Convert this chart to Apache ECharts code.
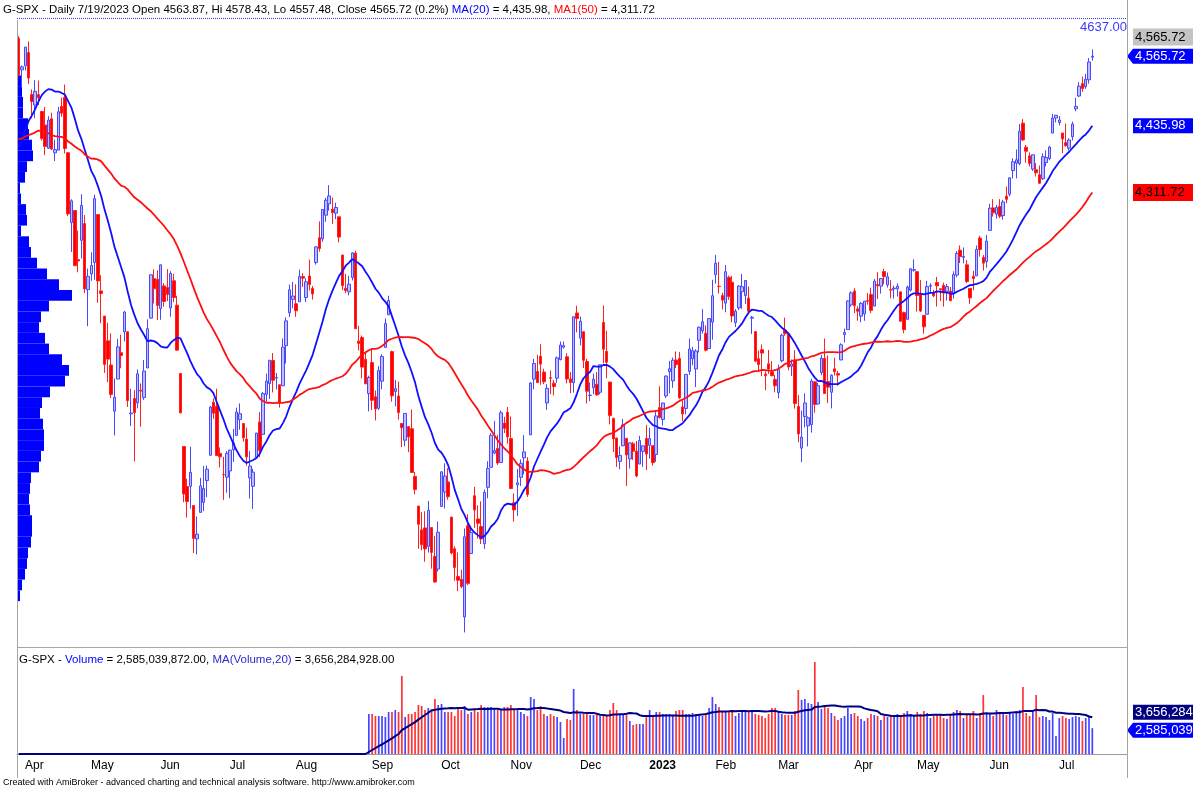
<!DOCTYPE html>
<html>
<head>
<meta charset="utf-8">
<script src="https://cdn.jsdelivr.net/npm/echarts@6/dist/echarts.min.js"></script>
<style>
html, body { margin: 0; padding: 0; background: #fff; }
#main { width: 1193px; height: 789px; }
</style>
</head>
<body>
<div id="main"></div>
<script>
// 交易日: 2022-03-31 .. 2023-07-19 (周末和假日除外)
var holidays = ['2022-04-15', '2022-05-30', '2022-06-20', '2022-07-04', '2022-09-05', '2022-11-24',
    '2022-12-26', '2023-01-02', '2023-01-16', '2023-02-20', '2023-04-07', '2023-05-29', '2023-06-19', '2023-07-04'];
var months = ['Jan', 'Feb', 'Mar', 'Apr', 'May', 'Jun', 'Jul', 'Aug', 'Sep', 'Oct', 'Nov', 'Dec'];

// 用于计算均线的前期收盘价 (2022-01-18 .. 2022-03-30)
var priorClose = [4577.11, 4532.76, 4482.73, 4397.94, 4410.13, 4356.45, 4349.93, 4326.51, 4431.85, 4515.55,
    4546.54, 4589.38, 4477.44, 4500.53, 4483.87, 4521.54, 4587.18, 4504.08, 4418.64, 4401.67, 4471.07, 4475.01,
    4380.26, 4348.87, 4304.76, 4225.50, 4288.70, 4384.65, 4373.94, 4306.26, 4386.54, 4363.49, 4328.87, 4201.09,
    4170.70, 4277.88, 4259.52, 4204.31, 4173.11, 4262.45, 4357.86, 4411.67, 4463.12, 4461.18, 4511.61, 4456.24,
    4520.16, 4543.06, 4575.52, 4631.60, 4602.45];

// 日线 [open, high, low, close]
var ohlc = [
    [4599.02, 4603.07, 4530.41, 4530.41],
    // 2022-04
    [4540.32, 4548.70, 4507.57, 4545.86], [4547.97, 4583.50, 4539.21, 4582.64], [4572.45, 4593.45, 4514.17, 4525.12],
    [4494.17, 4503.94, 4450.04, 4481.15], [4474.65, 4521.16, 4450.30, 4500.21], [4494.15, 4520.41, 4474.60, 4488.28],
    [4462.64, 4464.35, 4408.38, 4412.53], [4437.59, 4471.00, 4381.34, 4397.45], [4394.30, 4453.92, 4392.70, 4446.59],
    [4449.12, 4460.46, 4390.77, 4392.59], [4385.63, 4410.31, 4370.30, 4391.69], [4390.63, 4471.03, 4390.63, 4462.21],
    [4472.26, 4488.29, 4452.86, 4459.45], [4489.17, 4512.94, 4384.47, 4393.66], [4385.83, 4385.83, 4267.62, 4271.78],
    [4255.34, 4299.02, 4200.82, 4296.12], [4278.14, 4278.14, 4175.04, 4175.20], [4186.52, 4240.71, 4162.90, 4183.96],
    [4222.58, 4308.45, 4188.63, 4287.50], [4253.75, 4269.68, 4124.28, 4131.93],
    // 2022-05
    [4130.61, 4169.81, 4062.51, 4155.38], [4159.78, 4200.10, 4147.08, 4175.48], [4181.18, 4307.66, 4148.91, 4300.17],
    [4270.43, 4270.43, 4106.01, 4146.87], [4128.17, 4157.69, 4067.91, 4123.34], [4081.27, 4081.27, 3975.48, 3991.24],
    [4035.18, 4068.82, 3958.17, 4001.05], [3990.08, 4049.09, 3928.82, 3935.18], [3903.95, 3964.80, 3858.87, 3930.08],
    [3963.90, 4038.88, 3963.90, 4023.89], [4013.02, 4046.46, 3983.99, 4008.01], [4052.00, 4090.72, 4033.93, 4088.85],
    [4051.98, 4051.98, 3911.91, 3923.68], [3899.00, 3945.96, 3876.58, 3900.79], [3927.76, 3943.42, 3810.32, 3901.36],
    [3919.42, 3981.88, 3909.04, 3973.75], [3942.94, 3955.68, 3875.13, 3941.48], [3929.59, 3999.33, 3925.03, 3978.73],
    [3984.60, 4075.14, 3984.60, 4057.84], [4077.43, 4158.49, 4077.43, 4158.24], [4151.09, 4168.34, 4104.88, 4132.15],
    // 2022-06
    [4149.78, 4166.54, 4073.85, 4101.23], [4095.41, 4177.51, 4074.37, 4176.82], [4137.57, 4142.67, 4098.67, 4108.54],
    [4134.72, 4168.78, 4109.18, 4121.43], [4096.47, 4164.86, 4080.19, 4160.68], [4147.12, 4160.14, 4107.20, 4115.77],
    [4101.65, 4119.10, 4017.17, 4017.82], [3974.39, 3974.39, 3900.16, 3900.86], [3838.15, 3838.15, 3734.30, 3749.63],
    [3763.52, 3778.18, 3705.68, 3735.48], [3764.05, 3837.56, 3722.30, 3789.99], [3728.18, 3728.18, 3639.77, 3666.77],
    [3665.90, 3707.71, 3636.87, 3674.84], [3715.31, 3779.65, 3715.31, 3764.79], [3733.89, 3801.79, 3717.69, 3759.89],
    [3774.71, 3802.58, 3743.52, 3795.73], [3821.75, 3913.65, 3821.75, 3911.74], [3920.76, 3927.72, 3889.66, 3900.11],
    [3913.00, 3945.86, 3820.14, 3821.55], [3825.09, 3836.50, 3799.02, 3818.83], [3785.99, 3818.99, 3738.67, 3785.38],
    // 2022-07
    [3781.00, 3829.82, 3752.10, 3825.33], [3792.61, 3832.19, 3742.06, 3831.39], [3831.98, 3870.91, 3809.37, 3845.08],
    [3858.85, 3910.63, 3858.85, 3902.62], [3888.26, 3918.50, 3869.34, 3899.38], [3880.94, 3880.94, 3847.22, 3854.43],
    [3851.95, 3873.41, 3802.36, 3818.80], [3779.67, 3829.44, 3741.25, 3801.78], [3763.99, 3796.41, 3721.56, 3790.38],
    [3818.00, 3863.62, 3817.18, 3863.16], [3883.79, 3902.44, 3818.63, 3830.85], [3860.73, 3939.81, 3860.73, 3936.69],
    [3935.32, 3974.13, 3922.03, 3959.90], [3955.47, 3999.29, 3926.74, 3998.95], [3998.43, 4012.44, 3938.85, 3961.63],
    [3965.72, 3975.30, 3944.46, 3966.84], [3953.22, 3953.22, 3910.74, 3921.05], [3951.43, 4039.56, 3951.43, 4023.61],
    [4026.13, 4078.95, 3992.97, 4072.43], [4087.33, 4140.15, 4079.22, 4130.29],
    // 2022-08
    [4112.38, 4144.95, 4096.02, 4118.63], [4104.21, 4140.47, 4079.81, 4091.19], [4107.96, 4167.66, 4107.96, 4155.17],
    [4154.85, 4161.29, 4135.42, 4151.94], [4115.87, 4151.58, 4107.31, 4145.19], [4155.93, 4186.62, 4128.97, 4140.06],
    [4133.11, 4137.30, 4112.09, 4122.47], [4181.02, 4211.03, 4177.26, 4210.24], [4227.40, 4257.91, 4201.41, 4207.27],
    [4225.02, 4280.47, 4219.78, 4280.15], [4269.37, 4301.79, 4256.90, 4297.14], [4290.46, 4325.28, 4277.77, 4305.20],
    [4280.40, 4302.18, 4253.08, 4274.04], [4273.13, 4292.53, 4261.98, 4283.74], [4266.31, 4266.31, 4218.70, 4228.48],
    [4195.08, 4195.08, 4129.86, 4137.99], [4133.09, 4159.77, 4124.03, 4128.73], [4126.55, 4156.56, 4119.97, 4140.77],
    [4153.26, 4200.54, 4147.59, 4199.12], [4198.74, 4203.04, 4057.66, 4057.66], [4034.58, 4062.99, 4017.42, 4030.61],
    [4041.25, 4044.98, 3965.21, 3986.16], [4000.67, 4015.37, 3954.53, 3955.00],
    // 2022-09
    [3936.73, 3970.23, 3903.65, 3966.85], [3994.66, 4018.43, 3906.21, 3924.26], [3930.89, 3942.55, 3886.75, 3908.19],
    [3909.43, 3987.89, 3906.03, 3979.87], [3959.94, 4010.50, 3944.81, 4006.18], [4022.94, 4076.81, 4022.94, 4067.36],
    [4083.67, 4119.28, 4083.67, 4110.41], [4015.00, 4017.00, 3921.73, 3932.69], [3940.73, 3961.94, 3912.92, 3946.01],
    [3932.41, 3959.14, 3888.28, 3901.35], [3880.95, 3880.95, 3837.08, 3873.33], [3849.91, 3900.45, 3838.50, 3899.89],
    [3875.23, 3876.01, 3827.54, 3855.93], [3871.40, 3907.07, 3789.49, 3789.93], [3782.36, 3790.68, 3749.02, 3757.99],
    [3727.14, 3727.14, 3647.47, 3693.23], [3682.72, 3715.67, 3644.76, 3655.04], [3686.44, 3717.53, 3623.29, 3647.29],
    [3651.94, 3736.74, 3640.61, 3719.04], [3687.01, 3687.01, 3610.40, 3640.47], [3633.48, 3671.44, 3584.13, 3585.62],
    // 2022-10
    [3609.78, 3698.35, 3604.93, 3678.43], [3726.46, 3791.92, 3726.46, 3790.93], [3753.25, 3806.91, 3722.66, 3783.28],
    [3771.97, 3797.93, 3739.22, 3744.52], [3706.74, 3706.74, 3636.66, 3639.66], [3647.51, 3652.17, 3588.10, 3612.39],
    [3595.86, 3640.66, 3568.45, 3588.84], [3590.83, 3608.34, 3573.86, 3577.03], [3520.37, 3685.41, 3491.58, 3669.91],
    [3690.41, 3712.00, 3579.68, 3583.07], [3638.65, 3689.73, 3638.65, 3677.95], [3746.26, 3762.79, 3686.53, 3719.98],
    [3703.11, 3728.58, 3666.51, 3695.16], [3689.05, 3736.00, 3656.44, 3665.78], [3657.10, 3757.89, 3647.42, 3752.75],
    [3762.01, 3810.74, 3741.65, 3797.34], [3799.44, 3862.85, 3799.44, 3859.11], [3825.97, 3886.15, 3824.07, 3830.60],
    [3834.69, 3859.95, 3803.79, 3807.30], [3808.26, 3905.42, 3808.26, 3901.06], [3881.85, 3893.73, 3863.18, 3871.98],
    // 2022-11
    [3901.79, 3911.79, 3843.80, 3856.10], [3852.90, 3894.44, 3758.68, 3759.69], [3733.25, 3750.59, 3698.15, 3719.89],
    [3766.98, 3796.34, 3708.84, 3770.55], [3780.71, 3813.95, 3764.70, 3806.80], [3817.02, 3859.40, 3786.28, 3828.11],
    [3810.94, 3818.20, 3744.22, 3748.57], [3859.89, 3958.33, 3859.89, 3956.37], [3963.72, 4001.48, 3944.82, 3992.93],
    [3977.97, 4008.97, 3956.40, 3957.25], [4006.41, 4028.84, 3953.17, 3991.73], [3976.82, 3983.09, 3954.34, 3958.79],
    [3919.26, 3954.33, 3906.54, 3946.56], [3966.39, 3979.89, 3935.98, 3965.34], [3956.23, 3962.00, 3933.34, 3949.94],
    [3965.51, 4005.88, 3956.88, 4003.58], [4000.30, 4033.78, 3998.66, 4027.26], [4023.34, 4034.02, 4020.76, 4026.12],
    [4005.36, 4012.27, 3955.77, 3963.94], [3964.19, 3976.77, 3937.65, 3957.63], [3957.18, 4080.11, 3938.58, 4080.11],
    // 2022-12
    [4087.14, 4100.51, 4050.87, 4076.57], [4040.17, 4080.48, 4026.63, 4071.70], [4052.02, 4052.45, 3984.49, 3998.84],
    [3996.63, 4001.51, 3918.39, 3941.26], [3933.28, 3957.57, 3922.68, 3933.92], [3947.79, 3974.19, 3935.83, 3963.51],
    [3954.17, 3977.02, 3933.04, 3934.38], [3939.29, 3990.71, 3935.30, 3990.56], [4069.38, 4100.96, 3993.03, 4019.65],
    [4015.54, 4053.76, 3965.65, 3995.32], [3958.37, 3958.37, 3879.45, 3895.75], [3890.91, 3890.91, 3827.91, 3852.36],
    [3853.79, 3854.86, 3800.04, 3817.66], [3810.47, 3838.24, 3795.62, 3821.62], [3839.49, 3889.28, 3839.49, 3878.44],
    [3853.26, 3853.26, 3764.49, 3822.39], [3815.11, 3845.80, 3797.01, 3844.82], [3843.34, 3846.65, 3813.22, 3829.25],
    [3829.56, 3848.32, 3780.78, 3783.22], [3805.45, 3858.19, 3805.45, 3849.28], [3829.06, 3839.85, 3800.34, 3839.50],
    // 2023-01
    [3853.29, 3878.46, 3794.33, 3824.14], [3840.36, 3873.16, 3815.77, 3852.97], [3839.74, 3839.74, 3802.42, 3808.10],
    [3823.37, 3906.19, 3809.56, 3895.08], [3910.82, 3950.57, 3890.42, 3892.09], [3888.57, 3919.83, 3877.29, 3919.25],
    [3932.35, 3970.07, 3928.54, 3969.61], [3977.57, 3997.76, 3937.56, 3983.17], [3960.60, 4003.95, 3947.67, 3999.09],
    [3999.28, 4015.39, 3984.57, 3990.97], [4002.25, 4014.16, 3926.59, 3928.86], [3911.84, 3922.94, 3885.54, 3898.85],
    [3909.04, 3972.96, 3897.86, 3972.61], [3978.14, 4039.31, 3971.64, 4019.81], [4001.74, 4023.92, 3989.79, 4016.95],
    [3982.71, 4019.55, 3949.06, 4016.22], [4036.08, 4061.57, 4013.29, 4060.43], [4053.72, 4094.21, 4048.70, 4070.56],
    [4049.27, 4063.85, 4015.55, 4017.77], [4020.85, 4077.16, 4020.44, 4076.60],
    // 2023-02
    [4070.07, 4148.95, 4037.20, 4119.21], [4158.68, 4195.44, 4141.88, 4179.76], [4136.69, 4182.36, 4123.36, 4136.48],
    [4119.57, 4124.63, 4093.38, 4111.08], [4105.35, 4176.54, 4088.39, 4164.00], [4153.47, 4156.85, 4111.67, 4117.86],
    [4144.25, 4156.23, 4069.67, 4081.50], [4068.92, 4094.36, 4060.79, 4090.46], [4096.62, 4138.90, 4092.67, 4137.29],
    [4126.70, 4159.77, 4095.01, 4136.13], [4119.50, 4148.11, 4103.98, 4147.60], [4114.75, 4136.54, 4089.49, 4090.41],
    [4077.39, 4081.51, 4047.95, 4079.09], [4052.35, 4052.35, 3995.19, 3997.34], [4001.83, 4017.37, 3976.90, 3991.05],
    [4018.60, 4028.30, 3969.19, 4012.32], [3973.24, 3978.25, 3943.08, 3970.04], [3992.36, 4018.05, 3973.55, 3982.24],
    [3977.19, 3997.50, 3968.98, 3970.15],
    // 2023-03
    [3963.34, 3971.73, 3939.05, 3951.39], [3938.68, 3990.84, 3928.16, 3981.35], [3998.02, 4048.29, 3995.17, 4045.64],
    [4055.15, 4078.49, 4044.61, 4048.42], [4048.26, 4050.00, 3980.31, 3986.37], [3987.55, 4000.41, 3969.76, 3992.01],
    [3998.66, 4017.81, 3908.70, 3918.32], [3912.77, 3934.05, 3846.32, 3861.59], [3835.12, 3905.05, 3808.86, 3855.76],
    [3894.01, 3937.29, 3873.63, 3919.29], [3876.74, 3894.26, 3838.24, 3891.93], [3878.93, 3964.46, 3864.11, 3960.28],
    [3958.69, 3958.91, 3901.27, 3916.64], [3917.47, 3956.62, 3916.89, 3951.57], [3975.89, 4009.08, 3971.19, 4002.87],
    [4002.04, 4039.49, 3936.17, 3936.97], [3959.21, 4007.66, 3919.05, 3948.72], [3939.21, 3972.74, 3909.16, 3970.99],
    [3982.93, 4003.83, 3970.49, 3977.53], [3974.13, 3979.20, 3951.53, 3971.27], [3999.53, 4030.59, 3999.53, 4027.81],
    [4046.74, 4057.85, 4032.10, 4050.83], [4056.18, 4110.75, 4056.18, 4109.31],
    // 2023-04
    [4102.20, 4127.66, 4098.79, 4124.51], [4128.03, 4133.13, 4086.87, 4100.60], [4094.50, 4099.69, 4072.56, 4090.38],
    [4081.15, 4107.32, 4069.84, 4105.02], [4085.20, 4109.50, 4072.55, 4109.11], [4110.29, 4124.26, 4102.61, 4108.94],
    [4121.72, 4134.37, 4086.94, 4091.95], [4100.04, 4150.26, 4099.40, 4146.22], [4140.11, 4163.19, 4113.20, 4137.64],
    [4137.17, 4151.72, 4123.18, 4151.32], [4164.26, 4169.48, 4140.36, 4154.87], [4139.33, 4162.57, 4134.49, 4154.52],
    [4130.48, 4148.57, 4114.57, 4129.79], [4132.14, 4138.02, 4113.86, 4133.52], [4132.07, 4142.41, 4117.77, 4137.04],
    [4126.43, 4126.43, 4071.38, 4071.63], [4087.78, 4089.67, 4049.35, 4055.99], [4075.29, 4138.24, 4075.29, 4135.35],
    [4129.63, 4170.06, 4127.18, 4169.48],
    // 2023-05
    [4166.79, 4186.92, 4164.12, 4167.87], [4164.10, 4164.10, 4089.72, 4119.58], [4122.25, 4148.30, 4088.86, 4090.75],
    [4082.61, 4082.61, 4048.28, 4061.22], [4084.73, 4147.02, 4084.73, 4136.25], [4136.98, 4142.30, 4123.81, 4138.12],
    [4124.25, 4130.35, 4116.65, 4119.17], [4143.74, 4154.28, 4098.92, 4137.64], [4132.24, 4132.80, 4109.29, 4130.62],
    [4138.54, 4143.74, 4099.12, 4124.08], [4126.65, 4141.25, 4110.27, 4136.28], [4127.95, 4135.54, 4109.86, 4109.90],
    [4122.85, 4164.67, 4113.62, 4158.77], [4157.68, 4202.20, 4153.50, 4198.05], [4204.15, 4212.91, 4180.20, 4191.98],
    [4190.78, 4209.22, 4179.68, 4192.63], [4176.80, 4185.68, 4142.54, 4145.58], [4132.96, 4132.96, 4103.98, 4115.24],
    [4155.71, 4165.74, 4129.73, 4151.28], [4156.16, 4212.87, 4156.16, 4205.45], [4226.71, 4231.10, 4192.18, 4205.52],
    [4190.74, 4195.44, 4166.15, 4179.83],
    // 2023-06
    [4183.03, 4232.43, 4171.64, 4221.02], [4241.01, 4290.67, 4241.01, 4282.37], [4282.99, 4299.28, 4266.82, 4273.79],
    [4271.34, 4288.33, 4263.09, 4283.85], [4285.47, 4299.19, 4263.96, 4267.52], [4268.69, 4298.01, 4261.07, 4293.93],
    [4304.88, 4322.62, 4291.70, 4298.86], [4308.32, 4340.13, 4304.37, 4338.93], [4352.61, 4375.37, 4337.66, 4369.01],
    [4366.29, 4391.82, 4337.85, 4372.59], [4365.33, 4439.20, 4362.60, 4425.84], [4440.95, 4448.47, 4407.44, 4409.59],
    [4396.11, 4400.15, 4367.19, 4388.71], [4380.01, 4386.22, 4360.14, 4365.69], [4355.40, 4382.25, 4351.82, 4381.89],
    [4354.17, 4366.55, 4341.34, 4348.33], [4344.84, 4362.06, 4328.08, 4328.82], [4337.36, 4384.42, 4335.00, 4378.41],
    [4367.48, 4390.35, 4360.22, 4376.86], [4374.94, 4398.39, 4371.97, 4396.44], [4422.44, 4458.48, 4422.44, 4450.38],
    // 2023-07
    [4450.48, 4456.46, 4442.29, 4455.59], [4442.04, 4454.06, 4436.61, 4446.82], [4422.62, 4422.62, 4385.05, 4411.59],
    [4404.54, 4440.39, 4397.40, 4398.95], [4394.23, 4412.60, 4389.92, 4409.53], [4415.55, 4443.64, 4408.46, 4439.26],
    [4467.69, 4488.34, 4463.23, 4472.16], [4491.50, 4517.38, 4489.36, 4510.04], [4514.61, 4527.76, 4499.56, 4505.42],
    [4508.86, 4532.85, 4504.90, 4522.79], [4521.78, 4562.30, 4514.59, 4554.98], [4563.87, 4578.43, 4557.48, 4565.72]
];

// 成交量 (十亿), 2022-09-01 起, 之前无数据
var volumeStart = '2022-09-01';
var volumeBn = [
    // 2022-09
    4.0, 4.0, 3.8, 3.8, 3.8, 3.7, 4.2, 4.2, 4.4, 4.2, 7.8, 3.7, 4.0, 4.0, 4.2, 4.9, 4.8, 4.4, 4.6, 4.5, 5.5,
    // 2022-10
    4.9, 5.0, 4.2, 4.2, 4.2, 3.8, 4.5, 4.4, 4.8, 4.0, 4.2, 4.4, 4.2, 4.9, 4.7, 4.7, 4.7, 4.6, 4.4, 4.4, 4.7,
    // 2022-11
    4.7, 4.9, 4.4, 4.4, 4.2, 4.0, 3.8, 5.7, 5.5, 4.4, 4.8, 4.0, 3.8, 4.0, 3.8, 3.7, 3.2, 1.6, 3.5, 3.4, 6.5,
    // 2022-12
    4.4, 4.0, 4.0, 4.0, 3.9, 3.9, 3.9, 3.8, 3.9, 3.9, 4.4, 5.1, 4.4, 3.9, 3.9, 3.9, 3.3, 2.9, 3.0, 3.0, 3.0,
    // 2023-01
    3.8, 4.4, 3.8, 4.2, 4.2, 4.0, 4.0, 4.0, 3.9, 4.3, 4.4, 4.4, 4.0, 4.0, 4.1, 4.0, 3.9, 3.8, 3.9, 4.6,
    // 2023-02
    5.7, 5.0, 4.7, 4.2, 4.2, 4.2, 4.4, 3.8, 4.1, 4.4, 4.3, 4.3, 4.4, 4.0, 3.9, 3.8, 3.6, 4.0, 4.6,
    // 2023-03
    4.6, 4.2, 4.0, 3.9, 3.9, 3.9, 4.3, 6.4, 5.4, 5.5, 5.1, 5.0, 9.2, 5.2, 4.5, 4.8, 4.6, 4.1, 3.8, 3.4, 3.6, 3.8, 4.6,
    // 2023-04
    4.0, 4.1, 3.8, 3.5, 3.3, 3.6, 4.0, 3.9, 3.8, 3.4, 3.8, 3.7, 3.9, 3.8, 4.0, 3.9, 4.1, 4.3, 4.0,
    // 2023-05
    3.8, 4.2, 4.0, 4.3, 4.1, 3.6, 3.8, 4.0, 3.9, 3.6, 3.5, 4.0, 4.2, 4.4, 4.3, 3.6, 4.0, 3.9, 4.3, 3.6, 4.1, 5.9,
    // 2023-06
    4.2, 4.0, 3.8, 4.4, 4.2, 4.1, 3.9, 4.2, 4.0, 4.3, 4.4, 6.7, 4.1, 3.8, 4.4, 5.9, 3.7, 3.8, 3.7, 3.4, 4.1,
    // 2023-07
    1.8, 3.6, 3.8, 3.6, 3.5, 3.7, 3.8, 3.7, 3.3, 3.6, 3.7, 2.585
];

// 左侧价量分布 (每档20点)
var profileLevels = [3470, 3490, 3510, 3530, 3550, 3570, 3590, 3610, 3630, 3650, 3670, 3690, 3710, 3730, 3750,
    3770, 3790, 3810, 3830, 3850, 3870, 3890, 3910, 3930, 3950, 3970, 3990, 4010, 4030, 4050, 4070, 4090, 4110,
    4130, 4150, 4170, 4190, 4210, 4230, 4250, 4270, 4290, 4310, 4330, 4350, 4370, 4390, 4410, 4430, 4450, 4470,
    4490, 4510, 4530, 4550, 4570, 4590, 4610, 4630];
var profileVol = [0, 0, 0, 0, 3, 5, 8, 10, 11, 14, 15, 15, 13, 12, 13, 14, 22, 24, 27, 27, 26, 23, 25, 33, 48,
    52, 45, 32, 28, 22, 24, 32, 55, 42, 30, 20, 14, 12, 4, 10, 9, 4, 3, 8, 10, 16, 15, 12, 11, 6, 6, 5, 5,
    0, 0, 0, 0, 0, 0];

var headerText = 'G-SPX - Daily 7/19/2023 Open 4563.87, Hi 4578.43, Lo 4557.48, Close 4565.72 (0.2%) ';
var ma20Text = '4,435.98', ma50Text = '4,311.72', closeText = '4,565.72';
var volText = '2,585,039,872.00', volMaText = '3,656,284,928.00';
var hLineValue = 4637;

// 日期
var dates = [];
(function () {
    var d = new Date(Date.UTC(2022, 2, 31));
    var end = Date.UTC(2023, 6, 19);
    while (d.getTime() <= end) {
        var s = d.toISOString().slice(0, 10);
        var wd = d.getUTCDay();
        if (wd !== 0 && wd !== 6 && holidays.indexOf(s) < 0) dates.push(s);
        d.setUTCDate(d.getUTCDate() + 1);
    }
})();

var xData = dates.slice();
for (var k = 0; k < 10; k++) xData.push('pad' + k);

var fontN = '"Liberation Sans", Arial, sans-serif';

// 均线
var allClose = priorClose.concat(ohlc.map(function (r) { return r[3]; }));
function maOf(src, n, offset) {
    var out = [];
    for (var i = offset; i < src.length; i++) {
        var s = 0;
        for (var j = i - n + 1; j <= i; j++) s += (j >= 0 ? src[j] : 0);
        out.push(+(s / n).toFixed(2));
    }
    return out;
}
var ma20 = maOf(allClose, 20, priorClose.length);
var ma50 = maOf(allClose, 50, priorClose.length);

var vStartIdx = dates.indexOf(volumeStart);
var volFull = [];
for (var i = 0; i < dates.length; i++) volFull.push(i < vStartIdx ? 0 : volumeBn[i - vStartIdx]);
var volMa = maOf(volFull, 20, 0);

var candleData = ohlc.map(function (r) { return [r[0], r[3], r[2], r[1]]; });
var volData = volFull.map(function (v, i) {
    var up = ohlc[i][3] > ohlc[i][0];
    return { value: v, itemStyle: { color: up ? '#4646ff' : '#ff3333' } };
});

function isMonthStart(i) {
    return i > 0 && i < dates.length && dates[i].slice(5, 7) !== dates[i - 1].slice(5, 7);
}

function txt(color, size) {
    return { color: color, fontSize: size, fontWeight: 'normal', fontFamily: fontN };
}

var chart = echarts.init(document.getElementById('main'));

var option = {
    animation: false,
    backgroundColor: '#ffffff',
    title: [
        {
            left: 0, top: 3, padding: [1, 3],
            backgroundColor: '#ffffff',
            text: '{k|' + headerText + '}{b|MA(20)}{k| = ' + ma20Text + ', }{r|MA1(50)}{k| = ' + ma50Text + '}',
            textStyle: {
                fontWeight: 'normal',
                rich: { k: txt('#000', 11.5), b: txt('#0000ff', 11.5), r: txt('#ff0000', 11.5) }
            }
        },
        {
            left: 19, top: 654, padding: 0,
            text: '{k|G-SPX - }{b|Volume}{k| = ' + volText + ', }{n|MA(Volume,20)}{k| = ' + volMaText + '}',
            textStyle: {
                fontWeight: 'normal',
                rich: { k: txt('#000', 11.5), b: txt('#0000ff', 11.5), n: txt('#2a2ad0', 11.5) }
            }
        },
        {
            left: 3, top: 778, padding: 0,
            text: 'Created with AmiBroker - advanced charting and technical analysis software. http://www.amibroker.com',
            textStyle: txt('#000', 9)
        }
    ],
    grid: [
        { left: 17, right: 66, top: 11, height: 633 },
        { left: 17, width: 200, top: 11, height: 633 },
        { left: 17, right: 66, top: 651, height: 103 }
    ],
    xAxis: [
        { type: 'category', gridIndex: 0, data: xData, show: false },
        { type: 'value', gridIndex: 1, min: 0, max: 200, show: false },
        {
            type: 'category', gridIndex: 2, data: xData,
            axisLine: { lineStyle: { color: '#9a9a9a', width: 1 } },
            axisTick: {
                interval: function (i) { return isMonthStart(i); },
                length: 7, lineStyle: { color: '#9a9a9a' }
            },
            axisLabel: {
                interval: function (i) { return isMonthStart(i); },
                align: 'left', margin: 6, padding: [0, 0, 0, 3],
                color: '#000', fontSize: 12, fontFamily: fontN,
                formatter: function (v) {
                    var m = +v.slice(5, 7);
                    return m === 1 ? '{y|' + v.slice(0, 4) + '}' : months[m - 1];
                },
                rich: { y: { fontWeight: 'bold', fontSize: 12, fontFamily: fontN, color: '#000' } }
            }
        }
    ],
    yAxis: [
        { type: 'value', gridIndex: 0, min: 3470, max: 4650, show: false, splitLine: { show: false } },
        { type: 'category', gridIndex: 1, data: profileLevels, show: false },
        { type: 'value', gridIndex: 2, min: 0, max: 10.3, show: false, splitLine: { show: false } }
    ],
    series: [
        {
            name: 'profile', type: 'bar', xAxisIndex: 1, yAxisIndex: 1, data: profileVol,
            barCategoryGap: 0, itemStyle: { color: '#0000ff' }, z: 1, silent: true
        },
        {
            name: 'G-SPX', type: 'candlestick', xAxisIndex: 0, yAxisIndex: 0, data: candleData,
            barWidth: 3, z: 3,
            itemStyle: {
                color: '#bcbcff', color0: '#ff0000',
                borderColor: '#4848ff', borderColor0: '#ff2020', borderWidth: 1
            },
            markLine: {
                silent: true, symbol: 'none',
                lineStyle: { type: 'dotted', color: '#3a3aff', width: 1 },
                label: {
                    position: 'insideEndBottom', distance: [0, 3],
                    formatter: hLineValue.toFixed(2), color: '#3a3aff', fontSize: 13, fontFamily: fontN
                },
                data: [{ yAxis: hLineValue }]
            }
        },
        {
            name: 'MA20', type: 'line', xAxisIndex: 0, yAxisIndex: 0, data: ma20, symbol: 'none',
            lineStyle: { color: '#1010ff', width: 1.8 }, z: 4
        },
        {
            name: 'MA50', type: 'line', xAxisIndex: 0, yAxisIndex: 0, data: ma50, symbol: 'none',
            lineStyle: { color: '#ff1010', width: 1.8 }, z: 4
        },
        {
            name: 'Volume', type: 'bar', xAxisIndex: 2, yAxisIndex: 2, data: volData,
            barWidth: 1.7, z: 2
        },
        {
            name: 'MA(Volume,20)', type: 'line', xAxisIndex: 2, yAxisIndex: 2, data: volMa, symbol: 'none',
            lineStyle: { color: '#000080', width: 2 }, z: 4
        }
    ]
};

chart.setOption(option);

// 右侧数值标签和边框线
function tag(id, y, text, bg, fg, arrow, h) {
    var x = 1133, w = 90;
    h = h || 15;
    var pts = arrow
        ? [[x - 6, y], [x, y - h / 2], [x + w, y - h / 2], [x + w, y + h / 2], [x, y + h / 2]]
        : [[x, y - h / 2], [x + w, y - h / 2], [x + w, y + h / 2], [x, y + h / 2]];
    return {
        type: 'group', id: id, children: [
            { type: 'polygon', shape: { points: pts }, style: { fill: bg } },
            { type: 'text', x: x + 2, y: y, style: { text: text, fill: fg, font: '13px ' + fontN, verticalAlign: 'middle' } }
        ]
    };
}
function line(id, x1, y1, x2, y2) {
    return { type: 'line', id: id, shape: { x1: x1, y1: y1, x2: x2, y2: y2 }, style: { stroke: '#a6a6a6', lineWidth: 1 }, z: 10 };
}

var last = dates.length - 1;
var yClose = chart.convertToPixel({ yAxisIndex: 0 }, ohlc[last][3]);
var yMa20 = chart.convertToPixel({ yAxisIndex: 0 }, ma20[last]);
var yMa50 = chart.convertToPixel({ yAxisIndex: 0 }, ma50[last]);
var yVol = chart.convertToPixel({ yAxisIndex: 2 }, volFull[last]);
var yVolMa = chart.convertToPixel({ yAxisIndex: 2 }, volMa[last]);

chart.setOption({
    graphic: [
        line('l1', 17.5, 20, 17.5, 778),
        line('l2', 1127.5, 0, 1127.5, 778),
        line('l3', 17, 647.5, 1127, 647.5),
        tag('t0', 37, closeText, '#c4c4c4', '#000', false, 17),
        tag('t1', yClose, closeText, '#0000ff', '#fff', true),
        tag('t2', yMa20, ma20Text, '#0000ff', '#fff', false),
        tag('t3', yMa50, ma50Text, '#ff0000', '#000', false, 17),
        tag('t4', Math.min(yVolMa, yVol - 16), volMaText, '#000080', '#fff', false),
        tag('t5', yVol + 2, volText, '#0000ff', '#fff', true)
    ]
});
</script>
</body>
</html>
